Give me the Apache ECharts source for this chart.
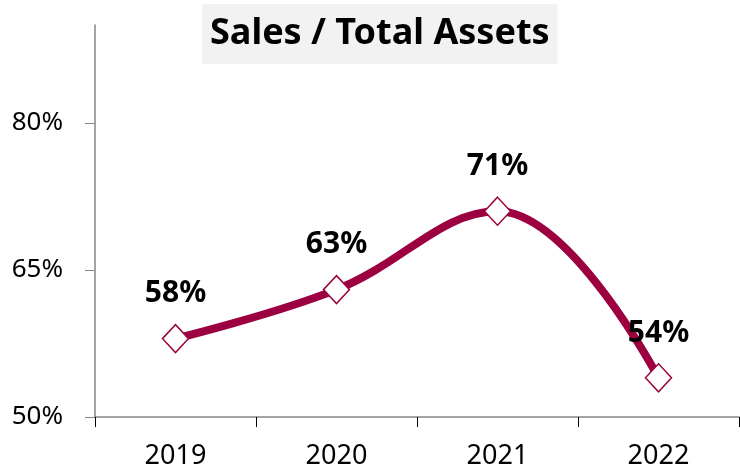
<!DOCTYPE html>
<html>
<head>
<meta charset="utf-8">
<script src="https://cdn.jsdelivr.net/npm/echarts@6/dist/echarts.min.js"></script>
<style>
  html, body { margin: 0; padding: 0; background: #fff; }
  #chart { width: 740px; height: 470px; }
</style>
</head>
<body>
<div id="chart"></div>
<script>
    // data
    var years = ['2019', '2020', '2021', '2022'];
    var ratio = [58, 63, 71, 54];
    var yTicks = [50, 65, 80];

    var lineColor = '#9c0040';
    var axisColor = '#868686';
    var font = '"Noto Sans", "Open Sans", sans-serif';

    var myChart = echarts.init(document.getElementById('chart'));

    var option = {
        backgroundColor: '#fff',
        animation: false,
        title: {
            text: 'Sales / Total Assets',
            left: 202,
            top: 4,
            padding: [9, 8],
            backgroundColor: '#f2f2f2',
            textStyle: {
                fontFamily: font,
                fontWeight: 'bold',
                fontSize: 36,
                lineHeight: 42,
                color: '#000'
            }
        },
        grid: {
            left: 95,
            right: 1,
            top: 25,
            bottom: 53
        },
        xAxis: {
            type: 'category',
            boundaryGap: true,
            data: years,
            axisLine: {
                lineStyle: { color: axisColor, width: 1.5 }
            },
            axisTick: {
                show: true,
                length: 10,
                lineStyle: { color: '#000', width: 1 }
            },
            axisLabel: {
                margin: 26,
                color: '#000',
                fontFamily: font,
                fontSize: 27
            }
        },
        yAxis: {
            type: 'value',
            min: 50,
            max: 90,
            interval: 15,
            splitLine: { show: false },
            axisLine: {
                show: true,
                lineStyle: { color: axisColor, width: 1.5 }
            },
            axisTick: {
                show: true,
                length: 10,
                customValues: yTicks,
                lineStyle: { color: axisColor, width: 1 }
            },
            axisLabel: {
                margin: 32,
                color: '#000',
                fontFamily: font,
                fontSize: 26,
                customValues: yTicks,
                formatter: '{value}%'
            }
        },
        series: [{
            type: 'line',
            data: ratio,
            smooth: 0.4,
            symbol: 'diamond',
            symbolSize: [26, 28],
            lineStyle: {
                color: lineColor,
                width: 8
            },
            itemStyle: {
                color: '#fff',
                borderColor: lineColor,
                borderWidth: 1.5
            },
            label: {
                show: true,
                position: 'top',
                distance: 15,
                color: '#000',
                fontFamily: font,
                fontWeight: 'bold',
                fontSize: 30,
                formatter: '{c}%'
            },
            z: 3
        }]
    };

    myChart.setOption(option);
</script>
</body>
</html>
